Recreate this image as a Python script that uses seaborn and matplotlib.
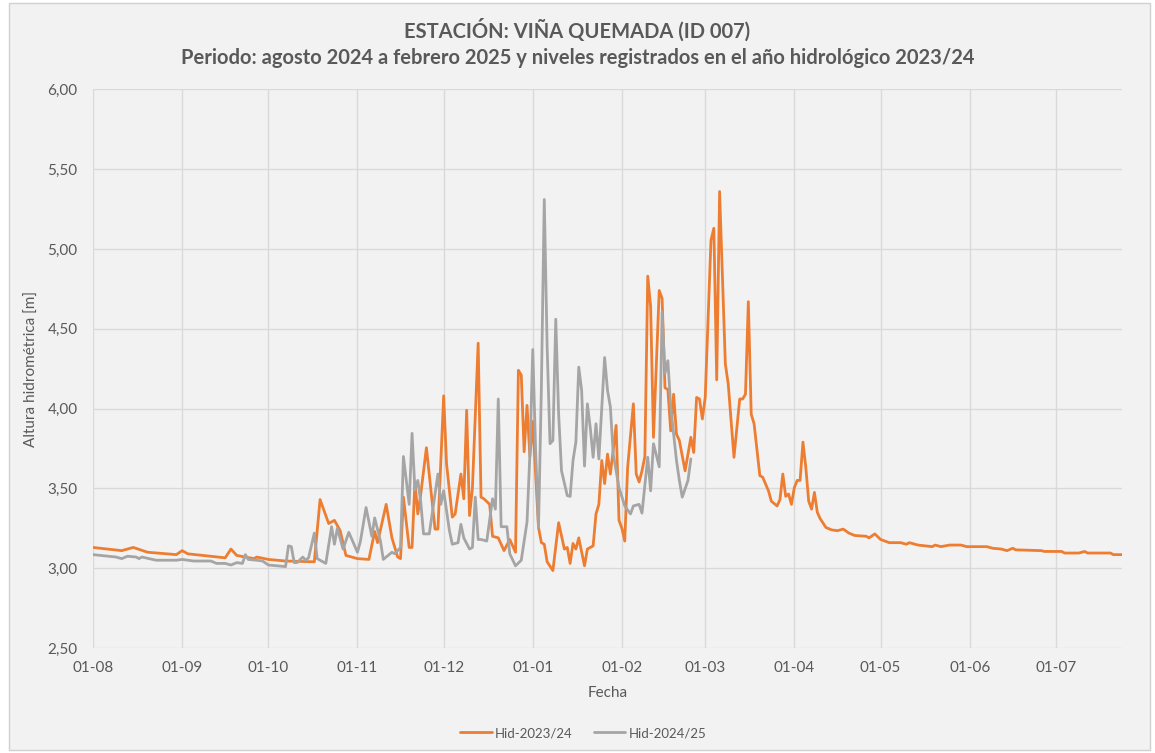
import numpy as np
import pandas as pd
import matplotlib
matplotlib.use("Agg")
import matplotlib.pyplot as plt
import matplotlib.dates as mdates
from matplotlib.patches import Rectangle
from matplotlib.ticker import FuncFormatter
import seaborn as sns

# ---- data (day offset from 1 August, level in m) ----
start_date = "2023-08-01"

days_2324 = [0, 10, 14, 19, 29, 31, 33, 46, 48, 50, 56, 57, 61, 67, 76, 77, 79, 82, 84, 86,
             88, 92, 96, 98, 99, 102, 104, 106, 107, 108, 110, 111, 112, 113, 114, 116, 119, 120, 122, 123,
             125, 126, 128, 129, 130, 131, 132, 134, 135, 136, 138, 139, 141, 143, 145, 147, 148, 149, 150, 151,
             152, 153, 155, 156, 157, 158, 160, 162, 164, 165, 166, 167, 168, 169, 171, 172, 174, 175, 176, 177,
             178, 179, 180, 182, 183, 184, 185, 186, 188, 189, 190, 191, 192, 193, 194, 195, 197, 198, 199, 200,
             201, 202, 203, 204, 206, 208, 209, 210, 211, 212, 213, 215, 216, 217, 218, 220, 221, 223, 225, 226,
             227, 228, 229, 230, 232, 233, 235, 236, 238, 239, 240, 241, 242, 243, 244, 245, 246, 247, 248, 249,
             250, 251, 252, 253, 255, 257, 259, 261, 263, 265, 269, 270, 272, 274, 277, 281, 283, 284, 287, 292,
             293, 295, 298, 302, 304, 311, 313, 316, 318, 320, 321, 330, 331, 337, 338, 343, 345, 346, 354, 355,
             358]
hid_2324 = [3.13, 3.11, 3.13, 3.10, 3.085, 3.11, 3.09, 3.065, 3.12, 3.08, 3.06, 3.07, 3.055, 3.045, 3.04, 3.04, 3.43, 3.28, 3.30, 3.235,
            3.08, 3.06, 3.055, 3.23, 3.16, 3.40, 3.19, 3.07, 3.06, 3.445, 3.13, 3.13, 3.54, 3.34, 3.46, 3.755, 3.245, 3.245, 4.08, 3.655,
            3.32, 3.34, 3.59, 3.435, 3.99, 3.33, 3.50, 4.41, 3.445, 3.435, 3.40, 3.20, 3.19, 3.11, 3.18, 3.10, 4.24, 4.21, 3.73, 4.02,
            3.70, 3.92, 3.255, 3.16, 3.15, 3.04, 2.985, 3.285, 3.12, 3.13, 3.03, 3.155, 3.12, 3.19, 3.015, 3.12, 3.14, 3.34, 3.40, 3.675,
            3.53, 3.715, 3.59, 3.895, 3.30, 3.25, 3.17, 3.63, 4.03, 3.59, 3.54, 3.61, 3.70, 4.83, 4.64, 3.82, 4.74, 4.69, 4.13, 4.12,
            3.86, 4.09, 3.84, 3.80, 3.61, 3.82, 3.725, 4.07, 4.06, 3.935, 4.07, 5.055, 5.13, 4.18, 5.36, 4.28, 4.155, 3.695, 4.06, 4.06,
            4.09, 4.67, 3.965, 3.905, 3.58, 3.57, 3.485, 3.42, 3.39, 3.43, 3.59, 3.45, 3.465, 3.40, 3.505, 3.55, 3.55, 3.79, 3.63, 3.42,
            3.37, 3.475, 3.35, 3.31, 3.255, 3.24, 3.235, 3.245, 3.22, 3.205, 3.20, 3.19, 3.215, 3.18, 3.16, 3.16, 3.15, 3.16, 3.145, 3.135,
            3.145, 3.135, 3.145, 3.145, 3.135, 3.135, 3.125, 3.12, 3.11, 3.125, 3.115, 3.11, 3.105, 3.105, 3.095, 3.095, 3.105, 3.095, 3.095, 3.085,
            3.085]

days_2425 = [0, 8, 10, 12, 15, 16, 17, 22, 29, 31, 35, 41, 43, 46, 48, 50, 52, 53, 54, 57,
             59, 61, 64, 67, 68, 69, 70, 71, 73, 74, 75, 77, 78, 81, 83, 84, 85, 87, 89, 92,
             93, 95, 97, 98, 100, 101, 104, 105, 107, 108, 110, 111, 112, 113, 114, 115, 117, 118, 120, 121,
             122, 124, 125, 127, 128, 129, 131, 132, 133, 134, 135, 137, 139, 140, 141, 142, 144, 145, 147, 149,
             151, 152, 153, 154, 155, 156, 157, 158, 159, 160, 161, 162, 163, 165, 166, 167, 168, 169, 170, 171,
             172, 173, 174, 175, 176, 178, 179, 180, 181, 183, 185, 187, 188, 190, 191, 193, 194, 195, 197, 198,
             199, 200, 201, 203, 204, 205, 207, 208]
hid_2425 = [3.085, 3.07, 3.06, 3.075, 3.07, 3.06, 3.07, 3.05, 3.05, 3.055, 3.045, 3.045, 3.03, 3.03, 3.02, 3.035, 3.03, 3.085, 3.055, 3.05,
            3.045, 3.02, 3.015, 3.01, 3.14, 3.135, 3.035, 3.035, 3.07, 3.05, 3.065, 3.22, 3.06, 3.03, 3.26, 3.15, 3.25, 3.12, 3.225, 3.10,
            3.165, 3.38, 3.20, 3.315, 3.17, 3.055, 3.10, 3.09, 3.13, 3.70, 3.40, 3.845, 3.49, 3.55, 3.42, 3.215, 3.215, 3.34, 3.59, 3.40,
            3.485, 3.235, 3.15, 3.16, 3.275, 3.19, 3.12, 3.13, 3.445, 3.18, 3.18, 3.17, 3.435, 3.37, 4.06, 3.26, 3.26, 3.09, 3.015, 3.05,
            3.29, 3.715, 4.37, 3.735, 3.255, 4.135, 5.31, 4.385, 3.78, 3.80, 4.56, 3.965, 3.61, 3.455, 3.45, 3.675, 3.79, 4.26, 4.115, 3.64,
            4.03, 3.88, 3.695, 3.905, 3.685, 4.32, 4.115, 4.01, 3.715, 3.505, 3.39, 3.34, 3.39, 3.40, 3.345, 3.695, 3.485, 3.78, 3.635, 4.605,
            4.22, 4.30, 4.01, 3.675, 3.55, 3.445, 3.55, 3.685]

series_names = ["Hid-2023/24", "Hid-2024/25"]
series_colors = ["#ED7D31", "#A5A5A5"]
y_ticks = [2.5, 3.0, 3.5, 4.0, 4.5, 5.0, 5.5, 6.0]
title_lines = ["ESTACIÓN: VIÑA QUEMADA (ID 007)",
               "Periodo: agosto 2024 a febrero 2025 y niveles registrados en el año hidrológico 2023/24"]

# ---- build table ----
t0 = pd.Timestamp(start_date)
df = pd.concat([
    pd.DataFrame({"Fecha": t0 + pd.to_timedelta(days_2324, unit="D"), "Nivel": hid_2324, "Serie": series_names[0]}),
    pd.DataFrame({"Fecha": t0 + pd.to_timedelta(days_2425, unit="D"), "Nivel": hid_2425, "Serie": series_names[1]}),
], ignore_index=True)

sns.set_theme(style="white")
plt.rcParams["font.family"] = ["Lato", "DejaVu Sans"]

text_col = "#595959"
fig = plt.figure(figsize=(11.55, 7.53), dpi=100, facecolor="white")
bg = Rectangle((9 / 1155, 3 / 753), 1141 / 1155, 747 / 753, transform=fig.transFigure,
               facecolor="#F2F2F2", edgecolor="#D0D0D0", lw=1, zorder=-10)
fig.patches.append(bg)
ax = fig.add_axes([93 / 1155, 1 - 648 / 753, (1122 - 93) / 1155, (648 - 89.4) / 753])
ax.set_zorder(1)
ax.set_facecolor("#F2F2F2")

sns.lineplot(data=df, x="Fecha", y="Nivel", hue="Serie", hue_order=series_names,
             palette=series_colors, estimator=None, sort=True, lw=2.0, ax=ax, zorder=3)

ax.set_xlim(t0, t0 + pd.Timedelta(days=358))
ax.set_ylim(2.5, 6.0)
ax.set_yticks(y_ticks)
ax.yaxis.set_major_formatter(FuncFormatter(lambda v, p: f"{v:.2f}".replace(".", ",")))
ax.xaxis.set_major_locator(mdates.MonthLocator())
ax.xaxis.set_major_formatter(mdates.DateFormatter("%d-%m"))
ax.grid(True, color="#D9D9D9", lw=1)
for s in ax.spines.values():
    s.set_visible(False)
ax.tick_params(axis="both", colors=text_col, labelsize=11, length=0)
ax.tick_params(axis="y", pad=11)
ax.tick_params(axis="x", pad=9)

ax.set_xlabel("Fecha", color=text_col, fontsize=11, labelpad=8)
ax.set_ylabel("Altura hidrométrica [m]", color=text_col, fontsize=11, labelpad=6)

fig.text(0.5, 1 - 30 / 753, title_lines[0], ha="center", va="center", fontsize=14.5,
         fontweight="bold", color=text_col)
fig.text(0.5, 1 - 58 / 753, title_lines[1], ha="center", va="center", fontsize=14.5,
         fontweight="bold", color=text_col)

handles, labels = ax.get_legend_handles_labels()
ax.get_legend().remove()
leg = fig.legend(handles, labels, loc="center", bbox_to_anchor=(0.505, 1 - 733 / 753),
                 ncol=2, frameon=False, fontsize=9.5, handlelength=2.4, columnspacing=1.6,
                 handletextpad=0.25)
for t in leg.get_texts():
    t.set_color(text_col)

fig.savefig("out.png", dpi=100, facecolor=fig.get_facecolor())
